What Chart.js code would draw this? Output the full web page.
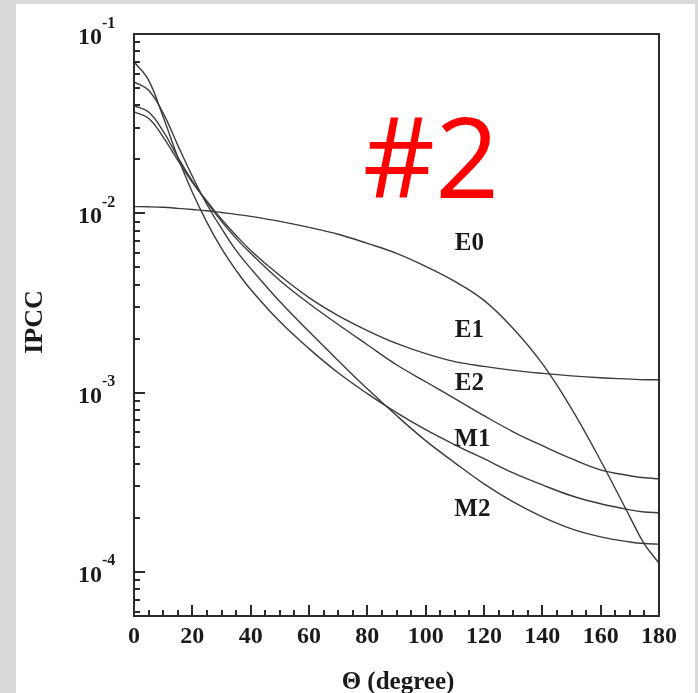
<!DOCTYPE html>
<html>
<head>
<meta charset="utf-8">
<script src="https://cdn.jsdelivr.net/npm/chart.js@4/dist/chart.umd.min.js"></script>
<style>
  html, body { margin: 0; padding: 0; background: #dadada; }
  canvas { display: block; }
</style>
</head>
<body>
<canvas id="ipcc" width="698" height="693"></canvas>
<script>
// Emission angle grid (degrees)
const theta = [0, 5, 10, 15, 20, 25, 30, 35, 40, 50, 60, 70, 80, 90, 100, 110, 120, 130, 140, 150, 160, 170, 175, 180];

// Internal pair conversion coefficient per multipolarity
const ipccE0 = [1.09e-2, 1.087e-2, 1.08e-2, 1.066e-2, 1.05e-2, 1.033e-2, 1.01e-2, 9.87e-3, 9.62e-3, 9.02e-3, 8.35e-3, 7.64e-3, 6.8e-3, 5.98e-3, 5.06e-3, 4.17e-3, 3.27e-3, 2.28e-3, 1.45e-3, 8.14e-4, 4.17e-4, 2.03e-4, 1.43e-4, 1.12e-4];
const ipccE1 = [3.68e-2, 3.39e-2, 2.66e-2, 1.98e-2, 1.49e-2, 1.17e-2, 9.26e-3, 7.53e-3, 6.21e-3, 4.50e-3, 3.39e-3, 2.69e-3, 2.22e-3, 1.88e-3, 1.65e-3, 1.49e-3, 1.40e-3, 1.33e-3, 1.28e-3, 1.24e-3, 1.21e-3, 1.19e-3, 1.18e-3, 1.18e-3];
const ipccE2 = [3.98e-2, 3.67e-2, 2.87e-2, 2.06e-2, 1.51e-2, 1.15e-2, 9.02e-3, 7.25e-3, 5.98e-3, 4.22e-3, 3.14e-3, 2.40e-3, 1.85e-3, 1.43e-3, 1.15e-3, 9.26e-4, 7.44e-4, 6.05e-4, 5.06e-4, 4.28e-4, 3.71e-4, 3.44e-4, 3.35e-4, 3.31e-4];
const ipccM1 = [7.00e-2, 5.53e-2, 3.44e-2, 2.06e-2, 1.31e-2, 8.91e-3, 6.37e-3, 4.81e-3, 3.76e-3, 2.49e-3, 1.76e-3, 1.29e-3, 9.87e-4, 7.73e-4, 6.21e-4, 5.12e-4, 4.28e-4, 3.57e-4, 3.06e-4, 2.66e-4, 2.40e-4, 2.22e-4, 2.16e-4, 2.14e-4];
const ipccM2 = [5.41e-2, 4.86e-2, 3.62e-2, 2.40e-2, 1.61e-2, 1.12e-2, 8.24e-3, 6.21e-3, 4.93e-3, 3.22e-3, 2.19e-3, 1.51e-3, 1.05e-3, 7.45e-4, 5.40e-4, 4.06e-4, 3.10e-4, 2.46e-4, 2.03e-4, 1.74e-4, 1.57e-4, 1.47e-4, 1.44e-4, 1.43e-4];

// Curve names and where their labels sit (theta, IPCC)
const curveNames = ['E0', 'E1', 'E2', 'M1', 'M2'];
const labelTheta = [115, 115, 115, 116, 116];
const labelIpcc = [6.74e-3, 2.21e-3, 1.12e-3, 5.51e-4, 2.24e-4];

// Decade exponents labelled on the y axis
const decadeExponents = [-1, -2, -3, -4];

const series = [ipccE0, ipccE1, ipccE2, ipccM1, ipccM2];
const INK = '#2b2b2b';
const SERIF = '"Liberation Serif", "Times New Roman", serif';

const decorations = {
  id: 'decorations',
  beforeDraw(chart) {
    const ctx = chart.ctx;
    ctx.save();
    ctx.fillStyle = '#dadada';
    ctx.fillRect(0, 0, chart.width, chart.height);
    ctx.fillStyle = '#ffffff';
    ctx.fillRect(16, 4, 679, chart.height - 4);
    ctx.restore();
  },
  afterDraw(chart) {
    const { ctx, chartArea: a, scales: { x, y } } = chart;
    ctx.save();

    // box frame
    ctx.strokeStyle = INK;
    ctx.lineWidth = 2;
    ctx.strokeRect(a.left, a.top, a.right - a.left, a.bottom - a.top);

    // inward tick marks
    ctx.beginPath();
    for (let v = 0; v <= 180; v += 5) {
      const px = Math.round(x.getPixelForValue(v));
      const len = v % 20 === 0 ? 11 : 6;
      ctx.moveTo(px, a.bottom);
      ctx.lineTo(px, a.bottom - len);
    }
    for (let e = -5; e <= -1; e++) {
      for (let m = 1; m <= 9; m++) {
        const val = m * Math.pow(10, e);
        if (val < y.min * 0.999 || val > y.max * 1.001) continue;
        const py = Math.round(y.getPixelForValue(val));
        const len = m === 1 ? 11 : 6;
        ctx.moveTo(a.left, py);
        ctx.lineTo(a.left + len, py);
      }
    }
    ctx.stroke();

    // y tick labels as powers of ten
    ctx.fillStyle = '#1a1a1a';
    decadeExponents.forEach(e => {
      const py = y.getPixelForValue(Math.pow(10, e));
      ctx.font = 'bold 24px ' + SERIF;
      ctx.textAlign = 'right';
      ctx.textBaseline = 'alphabetic';
      ctx.fillText('10', 102, py + 10);
      ctx.font = 'bold 16px ' + SERIF;
      ctx.textAlign = 'left';
      ctx.fillText(String(e), 102, py - 6.5);
    });

    // axis titles
    ctx.font = 'bold 26px ' + SERIF;
    ctx.textAlign = 'center';
    ctx.textBaseline = 'middle';
    ctx.save();
    ctx.translate(35, 322);
    ctx.rotate(-Math.PI / 2);
    ctx.fillText('IPCC', 0, 0);
    ctx.restore();
    ctx.textBaseline = 'alphabetic';
    ctx.font = 'bold 25px ' + SERIF;
    ctx.fillText('\u0398 (degree)', 398, 689);

    // curve labels
    ctx.font = 'bold 25px ' + SERIF;
    ctx.textBaseline = 'middle';
    curveNames.forEach((name, i) => {
      ctx.fillText(name, x.getPixelForValue(labelTheta[i]), y.getPixelForValue(labelIpcc[i]));
    });

    // panel tag
    ctx.fillStyle = '#ff0000';
    ctx.font = '112px "Open Sans", "Noto Sans", sans-serif';
    ctx.textBaseline = 'alphabetic';
    ctx.fillText('#2', 431, 198);

    ctx.restore();
  }
};

new Chart(document.getElementById('ipcc'), {
  type: 'line',
  data: {
    datasets: series.map((vals, i) => ({
      label: curveNames[i],
      data: theta.map((t, k) => ({ x: t, y: vals[k] })),
      borderColor: '#3c3c3c',
      borderWidth: 1.4,
      pointRadius: 0,
      fill: false,
      tension: 0.4
    }))
  },
  options: {
    responsive: false,
    animation: false,
    devicePixelRatio: 1,
    layout: { padding: { top: 34, right: 39, bottom: 17, left: 0 } },
    plugins: { legend: { display: false }, tooltip: { enabled: false } },
    scales: {
      x: {
        type: 'linear',
        min: 0,
        max: 180,
        grid: { display: false, drawTicks: false },
        border: { display: false },
        ticks: {
          stepSize: 20,
          padding: 6,
          color: '#1a1a1a',
          font: { family: SERIF, weight: 'bold', size: 24 }
        },
        afterFit(scale) { scale.height = 60; }
      },
      y: {
        type: 'logarithmic',
        min: 5.68e-5,
        max: 0.1,
        grid: { display: false, drawTicks: false },
        border: { display: false },
        ticks: { display: false },
        afterFit(scale) { scale.width = 134; }
      }
    }
  },
  plugins: [decorations]
});
</script>
</body>
</html>
